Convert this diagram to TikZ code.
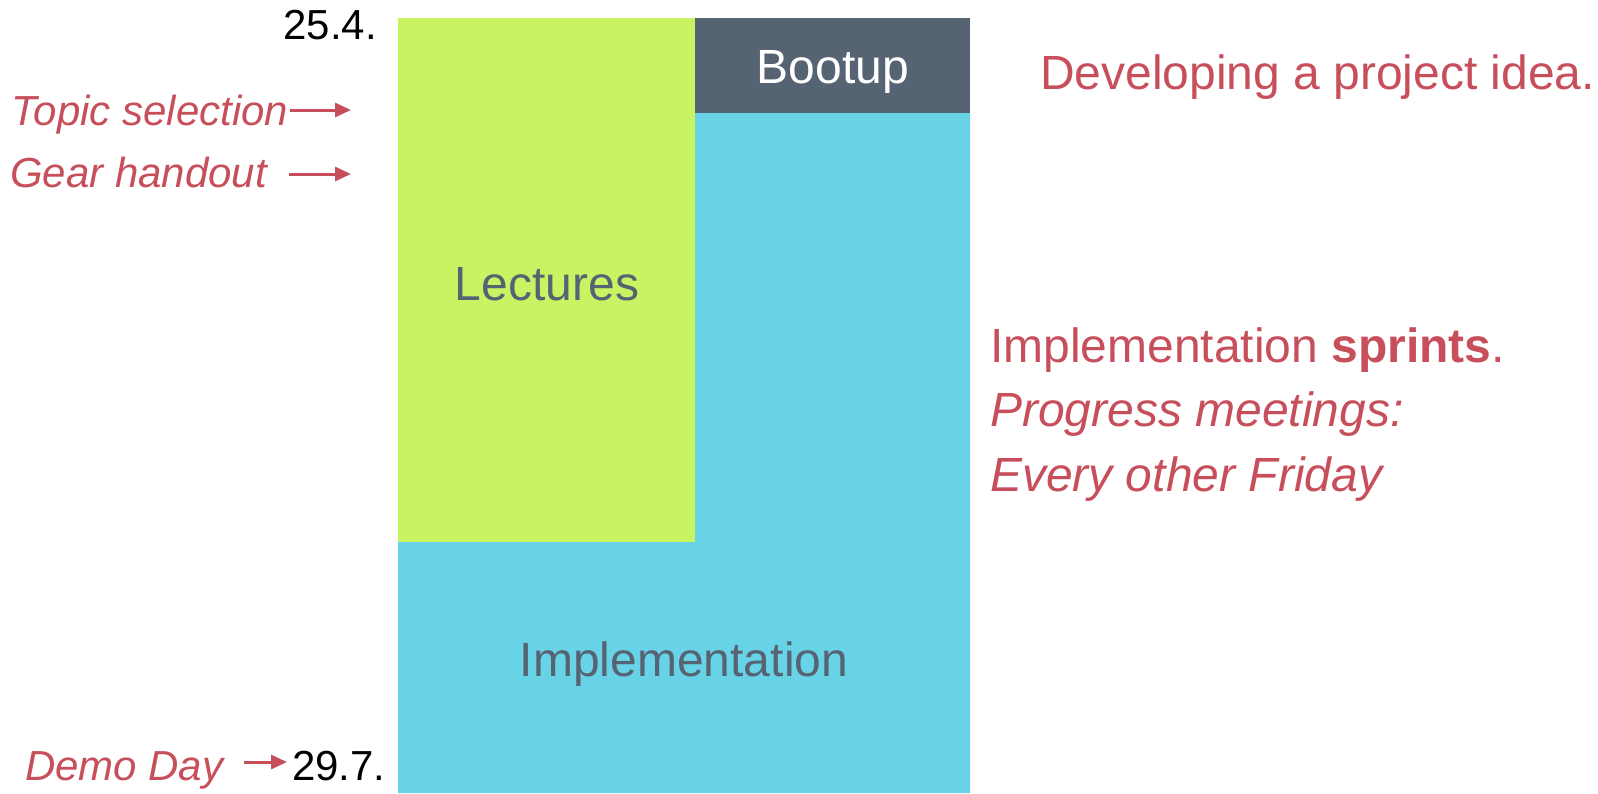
\documentclass[tikz,border=0pt]{standalone}
\usepackage{fontspec}
\setmainfont{Liberation Sans}
\usetikzlibrary{arrows.meta}
\definecolor{lec}{HTML}{C8F464}
\definecolor{boot}{HTML}{566372}
\definecolor{impl}{HTML}{68D2E6}
\definecolor{acc}{HTML}{C74F5B}
\begin{document}
\begin{tikzpicture}[x=1pt,y=-1pt,
  every node/.style={inner sep=0pt,outer sep=0pt},
  big/.style={font=\fontsize{48}{57}\selectfont},
  small/.style={font=\fontsize{42}{50}\selectfont},
  arr/.style={draw=acc, line width=3pt, -{Triangle[length=16pt,width=14pt]}}]
\useasboundingbox (0,0) rectangle (1598,793);
% blocks
\fill[impl] (398,542) -- (695,542) -- (695,113) -- (970,113) -- (970,793) -- (398,793) -- cycle;
\fill[lec] (398,18) rectangle (695,542);
\fill[boot] (695,18) rectangle (970,113);
% block labels
\node[big, text=boot, anchor=base] (lectures) at (547,300) {Lectures};
\node[big, text=boot, anchor=base] (implementation) at (684,676) {Implementation};
\node[big, text=white, anchor=base] (bootup) at (833,83) {Bootup};
% right texts
\node[big, text=acc, anchor=base west] (idea) at (1040,89) {Developing a project idea.};
\node[big, text=acc, anchor=base west] (sprints) at (990,362) {Implementation \textbf{sprints}.};
\node[big, text=acc, anchor=base west] (progress) at (990,426) {\itshape Progress meetings:};
\node[big, text=acc, anchor=base west] (friday) at (990,491) {\itshape Every other Friday};
% dates
\node[small, anchor=base east] (start) at (377,39) {25.4.};
\node[small, anchor=base west] (end) at (292,780) {29.7.};
% left labels
\node[small, text=acc, anchor=base west] (topic) at (12,125) {\itshape Topic selection};
\node[small, text=acc, anchor=base west] (gear) at (10,187) {\itshape Gear handout};
\node[small, text=acc, anchor=base west] (demo) at (25,780) {\itshape Demo Day};
% arrows
\coordinate (topictip) at (351,110);
\coordinate (geartip) at (351,174);
\coordinate (demoy) at (0,762);
\draw[arr] ([xshift=2pt]topic.east |- topictip) -- (topictip);
\draw[arr] ([xshift=22pt]gear.east |- geartip) -- (geartip);
\draw[arr] ([xshift=21pt]demo.east |- demoy) -- ([xshift=-5pt]end.west |- demoy);
\end{tikzpicture}
\end{document}
